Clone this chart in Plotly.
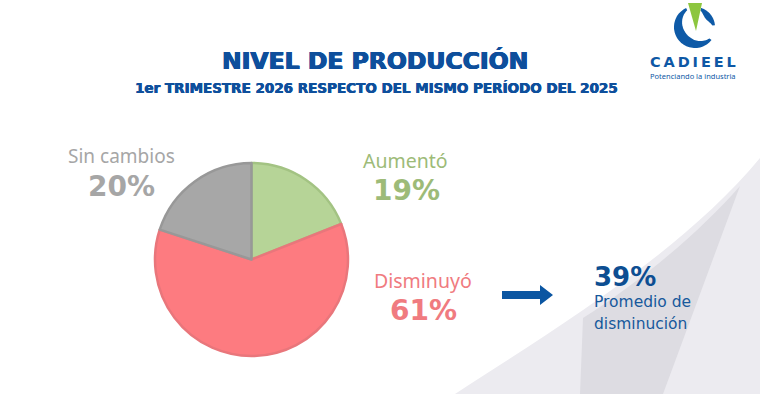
import numpy as np
import plotly.graph_objects as go

# ---- data ----
categories = ["Aumentó", "Disminuyó", "Sin cambios"]
values = [19, 61, 20]
slice_colors = ["#b6d497", "#fd7b80", "#a7a7a7"]
line_colors = ["#a3c383", "#e9767b", "#989898"]
label_colors = ["#9dbb78", "#f07b80", "#a6a6a6"]
avg_decrease = 39

title = "NIVEL DE PRODUCCIÓN"
subtitle = "1er TRIMESTRE 2026 RESPECTO DEL MISMO PERÍODO DEL 2025"

W, H = 760, 394
BLUE = "#0e4f9c"

fig = go.Figure()

fig.add_trace(go.Pie(
    labels=categories, values=values, sort=False, direction="clockwise",
    rotation=0,
    marker=dict(colors=slice_colors, line=dict(color=line_colors, width=2.5)),
    textinfo="none", hoverinfo="label+percent", showlegend=False,
    domain=dict(x=[155 / W, 348 / W], y=[1 - 356 / H, 1 - 163 / H]),
))

shapes = []
# background decoration (light gray polygons, lower right)
curve = "M 455,394 C 545,335 680,255 760,158 L 760,394 Z"
shapes.append(dict(type="path", path=curve, xref="x", yref="y",
                   fillcolor="#ecebf0", line=dict(width=0), layer="below"))
band = "M 580,394 L 583,318 C 640,282 700,232 740,186 L 663,394 Z"
shapes.append(dict(type="path", path=band, xref="x", yref="y",
                   fillcolor="#dddce2", line=dict(width=0), layer="below"))

# arrow
shapes.append(dict(type="path",
                   path="M 502,291 L 540,291 L 540,285 L 553,295 L 540,305 L 540,299 L 502,299 Z",
                   xref="x", yref="y", fillcolor="#0b56a2", line=dict(width=0)))

# logo icon
def ring(cx, cy, r1, a0, a1, tmax, tmin, n=50):
    a = np.radians(np.linspace(a0, a1, n))
    s = np.sin(np.linspace(0, np.pi, n))
    thick = tmin + (tmax - tmin) * s
    outer = [(cx + r1 * np.cos(t), cy - r1 * np.sin(t)) for t in a]
    inner = [(cx + (r1 - th) * np.cos(t), cy - (r1 - th) * np.sin(t))
             for t, th in zip(a[::-1], thick[::-1])]
    pts = outer + inner
    return "M " + " L ".join(f"{x:.1f},{y:.1f}" for x, y in pts) + " Z"

LOGO_BLUE = "#0e5aa7"
shapes.append(dict(type="path", path=ring(695, 27, 21, 115, 322, 10, 2.5), xref="x", yref="y",
                   fillcolor=LOGO_BLUE, line=dict(width=0)))
shapes.append(dict(type="path", path=ring(695, 27, 20, 5, 72, 6.5, 2.5), xref="x", yref="y",
                   fillcolor=LOGO_BLUE, line=dict(width=0)))
shapes.append(dict(type="path", path="M 688,3 L 702,3 L 696,31 Z", xref="x", yref="y",
                   fillcolor="#8dc63f", line=dict(width=0)))

ann = []
def txt(x, y, s, size, color, weight="normal", xanchor="center", family="Noto Sans", shadow=None):
    f = dict(family=family, size=size, color=color, weight=weight)
    if shadow:
        f["shadow"] = shadow
    ann.append(dict(x=x, y=y, xref="x", yref="y", text=s, showarrow=False,
                    xanchor=xanchor, yanchor="middle", font=f))

heavy = f"0.6px 0 0 {BLUE}, -0.6px 0 0 {BLUE}, 0 0.4px 0 {BLUE}"
txt(375, 61, title, 23.5, BLUE, "bold", family="DejaVu Sans", shadow=heavy)
txt(376, 88, subtitle, 13.5, BLUE, "bold", family="DejaVu Sans",
    shadow=f"0.4px 0 0 {BLUE}, -0.3px 0 0 {BLUE}")

txt(121, 156, categories[2], 19, label_colors[2])
txt(121, 186, f"{values[2]}%", 28, label_colors[2], "bold", family="DejaVu Sans")
txt(405, 160, categories[0], 19.5, label_colors[0])
txt(406, 190, f"{values[0]}%", 28, label_colors[0], "bold", family="DejaVu Sans")
txt(423, 280, categories[1], 19.5, label_colors[1])
txt(423, 310, f"{values[1]}%", 28, label_colors[1], "bold", family="DejaVu Sans")

txt(592, 277, f"{avg_decrease}%", 26, "#0d4e92", "bold", "left", family="DejaVu Sans")
txt(592, 302, "Promedio de", 15.5, "#17599c", "normal", "left", family="DejaVu Sans")
txt(592, 324, "disminución", 15.5, "#17599c", "normal", "left", family="DejaVu Sans")

txt(693, 62, "C\u2009A\u2009D\u2009I\u2009E\u2009E\u2009L", 14.5, "#0e58a5", "bold", family="DejaVu Sans")
txt(693, 75.5, "Potenciando la industria", 7.5, "#0e58a5")

fig.update_layout(
    width=W, height=H, margin=dict(l=0, r=0, t=0, b=0),
    paper_bgcolor="white", plot_bgcolor="rgba(0,0,0,0)",
    xaxis=dict(range=[0, W], visible=False, fixedrange=True),
    yaxis=dict(range=[H, 0], visible=False, fixedrange=True),
    shapes=shapes, annotations=ann,
)

fig.write_html("out.html", config={"displayModeBar": False},
               post_script="document.body.style.margin='0';document.body.style.overflow='hidden';")
